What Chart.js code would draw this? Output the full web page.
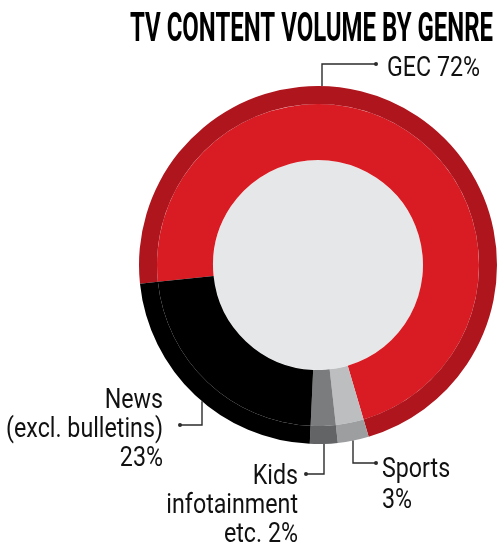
<!DOCTYPE html>
<html>
<head>
<meta charset="utf-8">
<script src="https://cdn.jsdelivr.net/npm/chart.js@4.4.1/dist/chart.umd.min.js"></script>
<style>
    html, body { margin: 0; padding: 0; background: #fff; }
    #wrap { width: 500px; height: 548px; }
</style>
</head>
<body>
<div id="wrap"><canvas id="genre-chart" width="500" height="548"></canvas></div>
<script>
// TV content volume by genre

const title = 'TV CONTENT VOLUME BY GENRE';
const genres = ['GEC', 'Sports', 'Kids infotainment etc.', 'News (excl. bulletins)'];
const shares = [72.1, 2.8, 2.5, 22.6];
const labelLines = [
    ['GEC 72%'],
    ['Sports', '3%'],
    ['Kids', 'infotainment', 'etc. 2%'],
    ['News', '(excl. bulletins)', '23%']
];
const innerColors = ['#d91c24', '#bcbec0', '#7b7c7e', '#000000'];
const outerColors = ['#ae151d', '#9d9ea0', '#636466', '#000000'];

// where each callout sits (x of the leader, elbow, dot, text)
const callouts = [
    { anchorX: 322, side: -1, elbowY: 64, dotX: 376, textX: 387, align: 'left', baselines: [76] },
    { anchorX: 353, side: 1, elbowY: 463, dotX: 376, textX: 382, align: 'left', baselines: [477, 508] },
    { anchorX: 324, side: 1, elbowY: 474, dotX: 306, textX: 298, align: 'right', baselines: [484, 513, 542] },
    { anchorX: 202, side: 1, elbowY: 425, dotX: 180, textX: 163, align: 'right', baselines: [408, 437, 466] }
];

function condensedText(ctx, text, x, y, sx) {
    ctx.save();
    ctx.translate(x, y);
    ctx.scale(sx, 1);
    ctx.fillText(text, 0, 0);
    ctx.restore();
}

const genrePlugin = {
    id: 'genreLabels',
    beforeDatasetsDraw(chart) {
        const ctx = chart.ctx;
        const arc = chart.getDatasetMeta(1).data[0];
        ctx.save();
        ctx.fillStyle = '#e6e7e8';
        ctx.beginPath();
        ctx.arc(arc.x, arc.y, arc.innerRadius, 0, Math.PI * 2);
        ctx.fill();
        ctx.restore();
    },
    afterDatasetsDraw(chart) {
        const ctx = chart.ctx;
        const arc = chart.getDatasetMeta(0).data[0];
        const cx = arc.x, cy = arc.y, R = arc.outerRadius;

        ctx.save();
        // leaders
        ctx.strokeStyle = '#2b2b2b';
        ctx.fillStyle = '#2b2b2b';
        ctx.lineWidth = 1.4;
        callouts.forEach(c => {
            const dx = c.anchorX - cx;
            const y0 = cy + c.side * Math.sqrt(R * R - dx * dx);
            ctx.beginPath();
            ctx.moveTo(c.anchorX, y0);
            ctx.lineTo(c.anchorX, c.elbowY);
            ctx.lineTo(c.dotX, c.elbowY);
            ctx.stroke();
            ctx.beginPath();
            ctx.arc(c.dotX, c.elbowY, 2, 0, Math.PI * 2);
            ctx.fill();
        });

        // label text
        ctx.fillStyle = '#111';
        ctx.font = '28px Roboto';
        ctx.textBaseline = 'alphabetic';
        callouts.forEach((c, i) => {
            ctx.textAlign = c.align;
            labelLines[i].forEach((line, j) => {
                condensedText(ctx, line, c.textX, c.baselines[j], 0.83);
            });
        });

        // title, squeezed to the reference width
        ctx.font = 'bold 41px Roboto';
        ctx.textAlign = 'right';
        ctx.fillStyle = '#000';
        const w = ctx.measureText(title).width;
        condensedText(ctx, title, 493, 41, 363 / w);
        ctx.restore();
    }
};

function renderChart() {
    const ctx = document.getElementById('genre-chart');
    if (!ctx) return;

    new Chart(ctx, {
        type: 'doughnut',
        data: {
            labels: genres,
            datasets: [
                {
                    data: shares,
                    backgroundColor: outerColors,
                    borderWidth: 0,
                    weight: 18
                },
                {
                    data: shares,
                    backgroundColor: innerColors,
                    borderWidth: 0,
                    weight: 56
                }
            ]
        },
        options: {
            responsive: false,
            animation: false,
            events: [],
            rotation: -96,
            cutout: 105,
            hoverOffset: 0,
            layout: {
                padding: { left: 139, right: 3, top: 86, bottom: 104 }
            },
            plugins: {
                legend: { display: false },
                title: { display: false },
                tooltip: { enabled: false }
            }
        },
        plugins: [genrePlugin]
    });
}

renderChart();
</script>
</body>
</html>
